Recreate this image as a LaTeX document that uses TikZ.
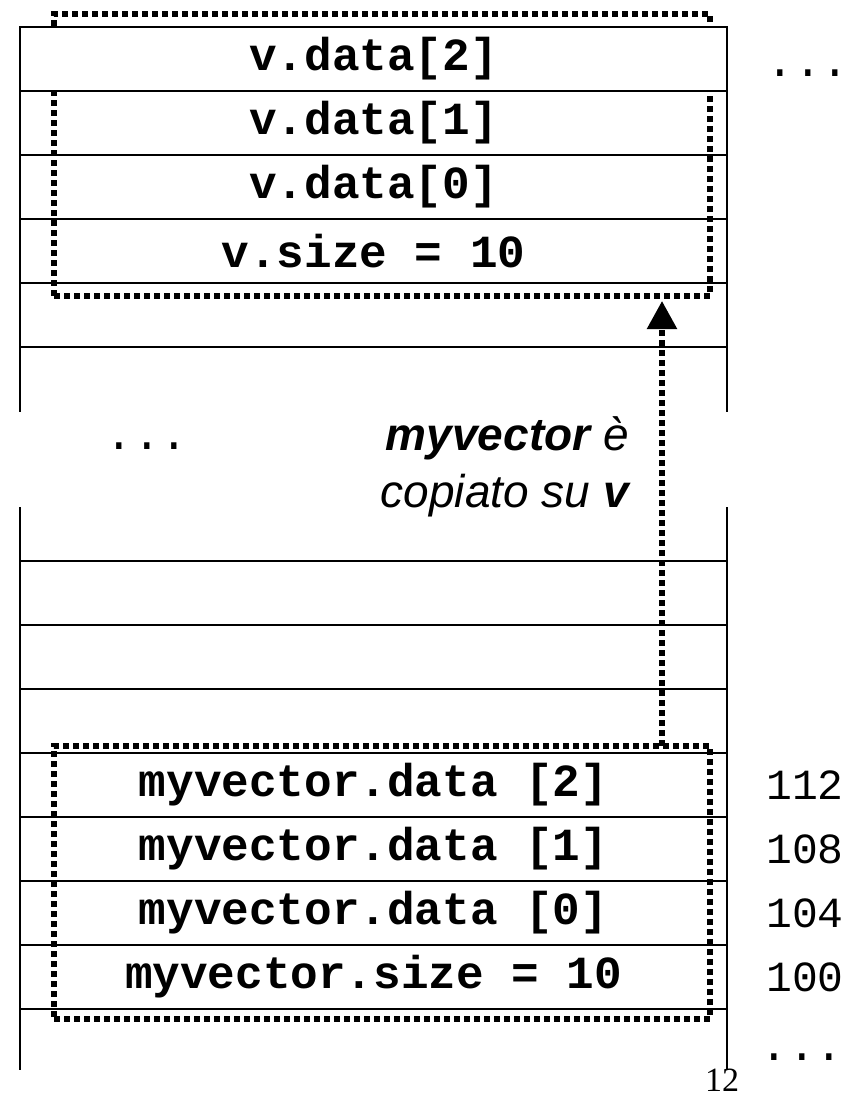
\documentclass[tikz,border=0pt]{standalone}
\usepackage{fontspec}
\newfontfamily\cellfont{Liberation Mono}
\newfontfamily\notefont{Liberation Sans}
\newfontfamily\pagenumfont{Liberation Serif}
\usetikzlibrary{arrows.meta}

\begin{document}
\begin{tikzpicture}[x=1pt,y=-1pt,
  wall/.style={line width=1.6pt},
  cell/.style={draw, line width=1.6pt, minimum width=707pt, minimum height=64pt,
    inner sep=0pt, outer sep=0pt, anchor=north west,
    font=\cellfont\bfseries\fontsize{46}{46}\selectfont},
  dotline/.style={line width=5.5pt, dash pattern=on 6pt off 4pt},
  dotbox/.style={dotline, draw, inner sep=0pt, outer sep=0pt},
  addr/.style={font=\cellfont\fontsize{43}{43}\selectfont, inner sep=0pt},
  dots/.style={font=\cellfont\fontsize{46}{46}\selectfont, inner sep=0pt, anchor=base},
  note/.style={font=\notefont\itshape\fontsize{46}{46}\selectfont, inner sep=0pt, anchor=base east},
]
\useasboundingbox (0,0) rectangle (863,1098);

% dotted frames around the two structures
\node[dotbox, minimum width=656pt, minimum height=282pt] (dst) at (382,155) {};
\node[dotbox, minimum width=656pt, minimum height=273pt] (src) at (382,882.5) {};

% upper memory cells (v)
\node[cell, fill=white] (t1) at (20,27) {v.data[2]};
\node[cell] (t2) at (t1.south west) {v.data[1]};
\node[cell] (t3) at (t2.south west) {v.data[0]};
\node[cell] (t4) at (t3.south west) {v.size = 10};
\node[cell] (t5) at (t4.south west) {};

% lower memory cells (myvector)
\node[cell] (b1) at (20,561) {};
\node[cell] (b2) at (b1.south west) {};
\node[cell] (b3) at (b2.south west) {};
\node[cell] (b4) at (b3.south west) {myvector.data [2]};
\node[cell] (b5) at (b4.south west) {myvector.data [1]};
\node[cell] (b6) at (b5.south west) {myvector.data [0]};
\node[cell] (b7) at (b6.south west) {myvector.size = 10};

% open column walls
\draw[wall] (t5.south west) -- ++(0,65);
\draw[wall] (t5.south east) -- ++(0,65);
\draw[wall] (b1.north west) -- ++(0,-54);
\draw[wall] (b1.north east) -- ++(0,-54);
\draw[wall] (b7.south west) -- ++(0,61);
\draw[wall] (b7.south east) -- ++(0,61);

% copy arrow
\coordinate (ax) at (662,0);
\draw[dotline, -{Triangle[length=28pt,width=29pt]}] (src.north -| ax) -- ([yshift=-5pt]dst.south -| ax);

% addresses
\coordinate (addrx) at (805,0);
\node[addr] (a112) at (b4 -| addrx) {112};
\node[addr] (a108) at (b5 -| addrx) {108};
\node[addr] (a104) at (b6 -| addrx) {104};
\node[addr] (a100) at (b7 -| addrx) {100};

% ellipses
\node[dots] (d1) at (808,76) {...};
\node[dots] (d2) at (147,449) {...};
\node[dots] (d3) at (802,1060) {...};

% comment text
\node[note] (n1) at (629,450) {{\bfseries myvector} è};
\node[note] (n2) at (629,507) {copiato su {\bfseries v}};

% page number
\node[font=\pagenumfont\fontsize{34}{34}\selectfont, inner sep=0pt, anchor=base] (pg) at (722,1091) {12};
\end{tikzpicture}
\end{document}
